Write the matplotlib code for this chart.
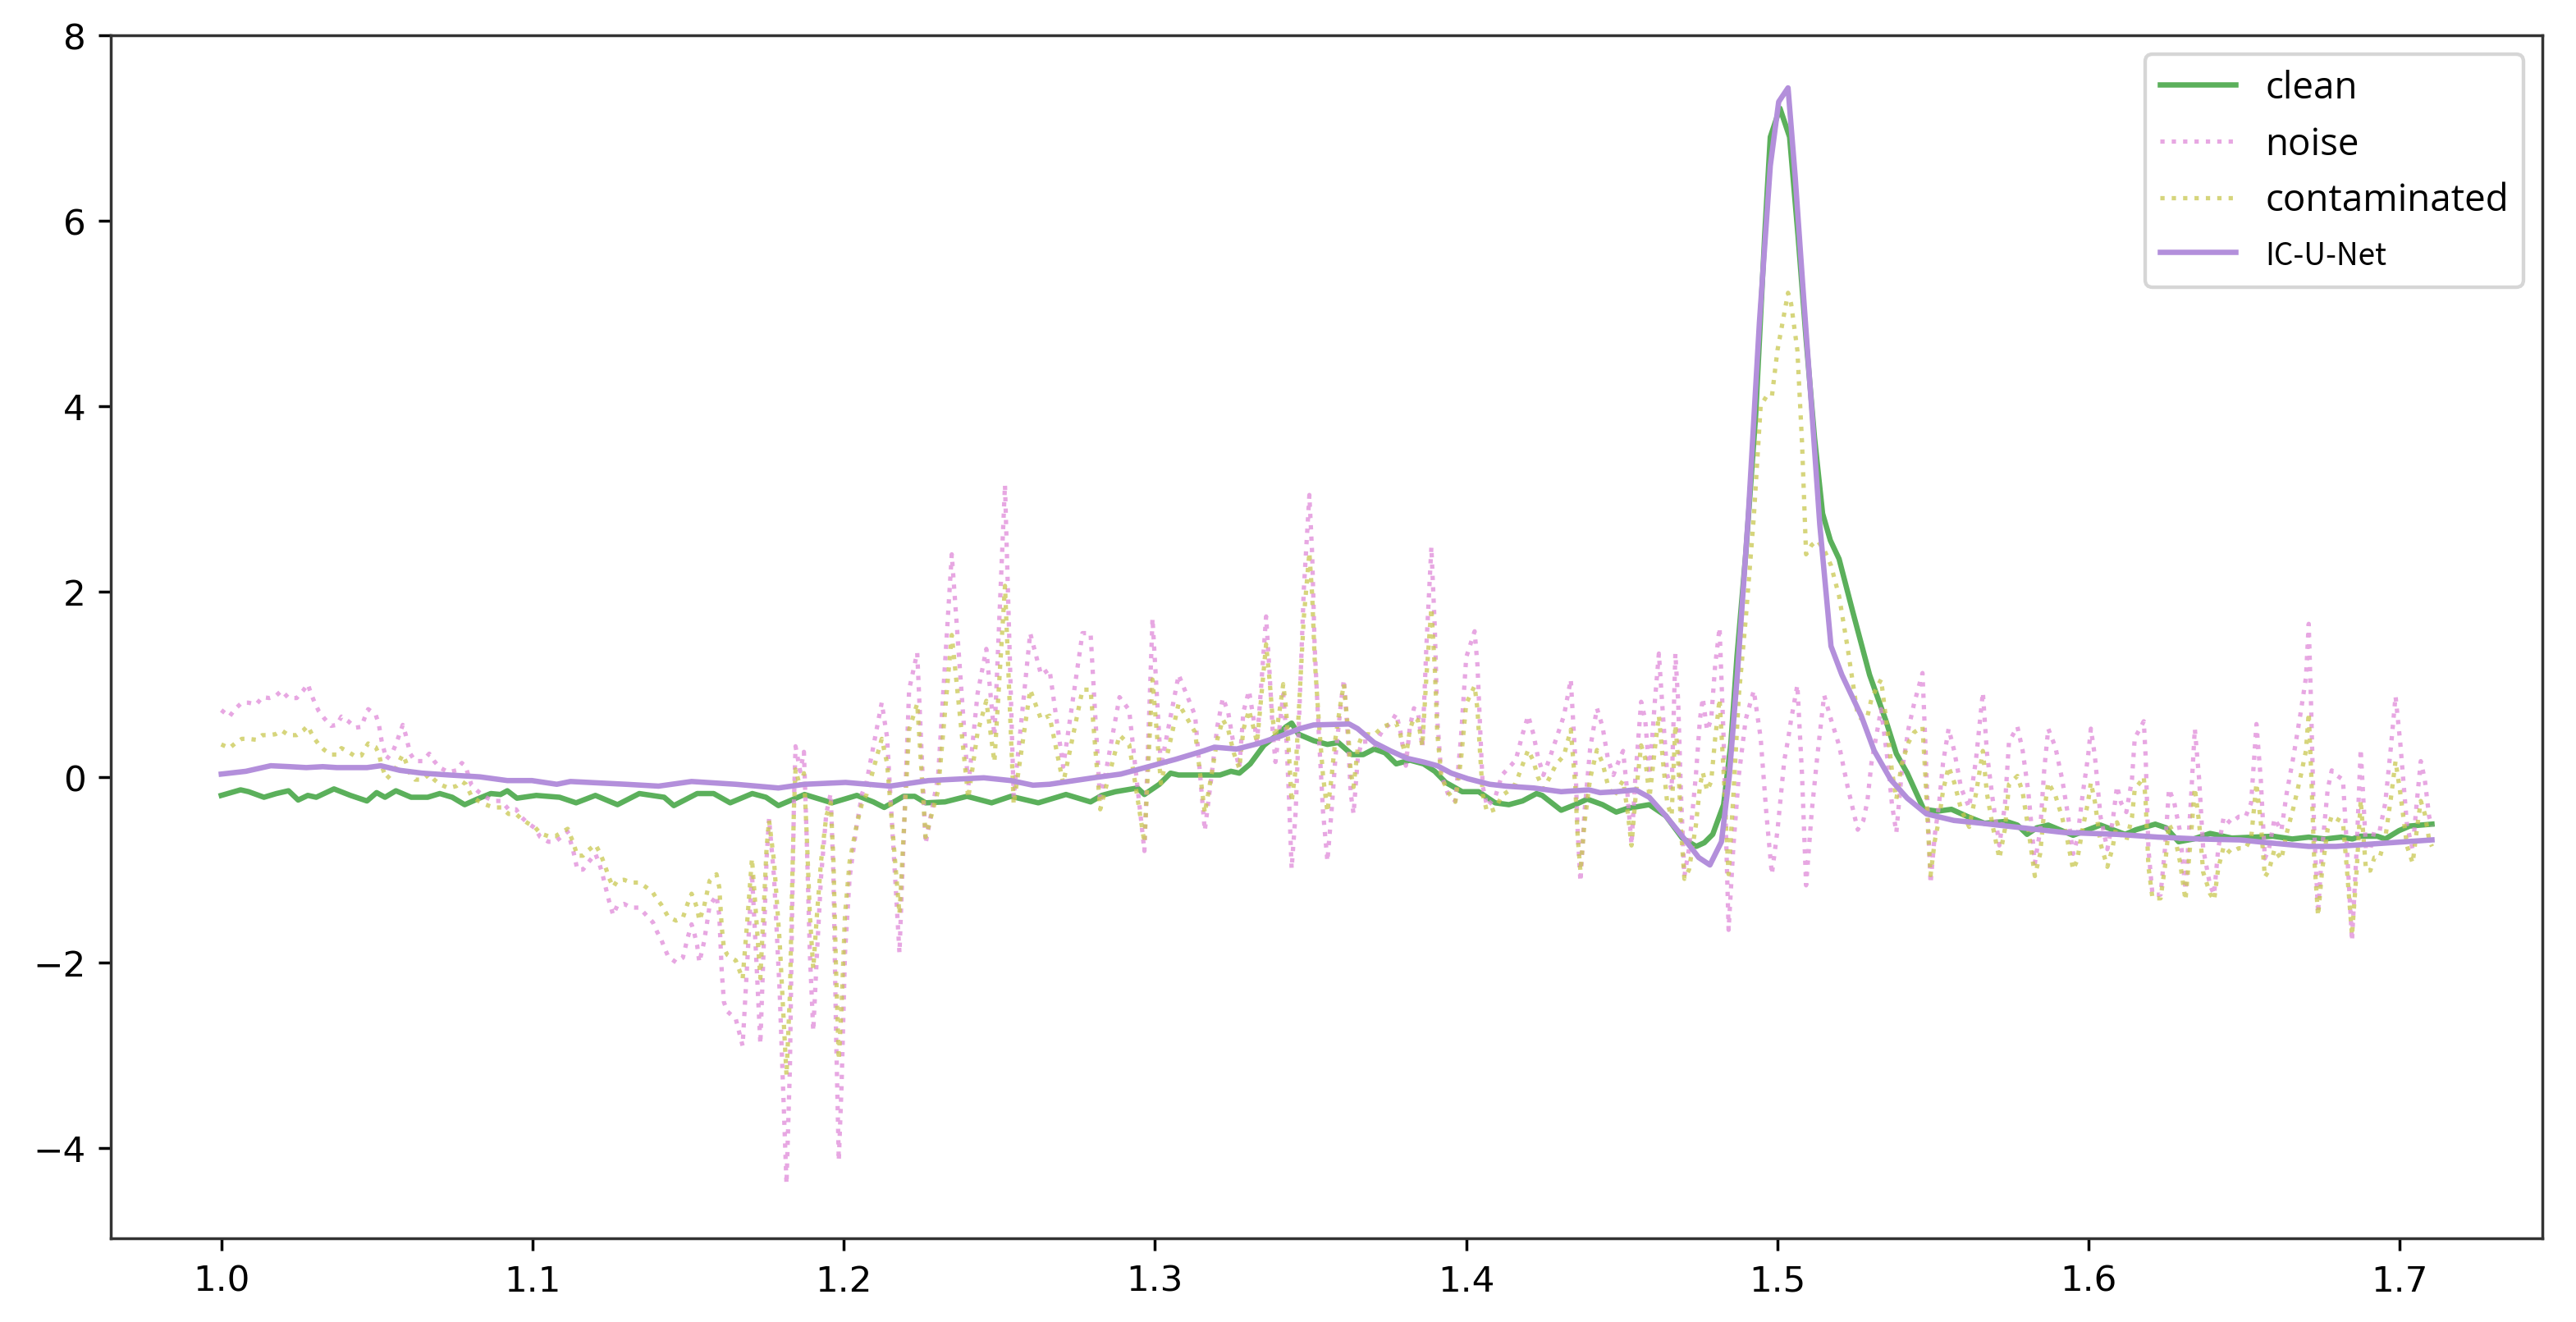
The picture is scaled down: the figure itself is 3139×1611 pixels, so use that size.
import matplotlib
matplotlib.use("Agg")
import matplotlib.pyplot as plt

# noise and contaminated share one time axis (s)
x_nc = [
    1.0000, 1.0026, 1.0044, 1.0066, 1.0087, 1.0112, 1.0132, 1.0154, 1.0174, 1.0194,
    1.0216, 1.0242, 1.0263, 1.0278, 1.0288, 1.0300, 1.0313, 1.0331, 1.0353, 1.0371,
    1.0386, 1.0408, 1.0431, 1.0450, 1.0461, 1.0472, 1.0496, 1.0506, 1.0516, 1.0531,
    1.0552, 1.0563, 1.0583, 1.0592, 1.0607, 1.0623, 1.0647, 1.0668, 1.0684, 1.0702,
    1.0730, 1.0755, 1.0773, 1.0786, 1.0804, 1.0826, 1.0850, 1.0875, 1.0900, 1.0923,
    1.0947, 1.0963, 1.0985, 1.1007, 1.1025, 1.1051, 1.1073, 1.1113, 1.1131, 1.1144,
    1.1162, 1.1180, 1.1202, 1.1215, 1.1224, 1.1237, 1.1246, 1.1259, 1.1272, 1.1294,
    1.1317, 1.1343, 1.1365, 1.1387, 1.1400, 1.1414, 1.1436, 1.1461, 1.1483, 1.1498,
    1.1511, 1.1520, 1.1529, 1.1536, 1.1551, 1.1560, 1.1569, 1.1591, 1.1600, 1.1608,
    1.1615, 1.1626, 1.1653, 1.1675, 1.1690, 1.1705, 1.1718, 1.1732, 1.1742, 1.1752,
    1.1760, 1.1776, 1.1794, 1.1807, 1.1816, 1.1827, 1.1834, 1.1840, 1.1845, 1.1860,
    1.1872, 1.1881, 1.1891, 1.1902, 1.1914, 1.1927, 1.1944, 1.1958, 1.1967, 1.1975,
    1.1984, 1.1993, 1.2004, 1.2019, 1.2042, 1.2059, 1.2073, 1.2122, 1.2139, 1.2179,
    1.2210, 1.2236, 1.2263, 1.2303, 1.2347, 1.2400, 1.2430, 1.2458, 1.2484, 1.2518,
    1.2546, 1.2599, 1.2634, 1.2661, 1.2705, 1.2767, 1.2793, 1.2824, 1.2886, 1.2917,
    1.2966, 1.2992, 1.3019, 1.3076, 1.3129, 1.3160, 1.3182, 1.3200, 1.3218, 1.3235,
    1.3253, 1.3271, 1.3284, 1.3302, 1.3315, 1.3328, 1.3341, 1.3357, 1.3368, 1.3378,
    1.3387, 1.3399, 1.3412, 1.3421, 1.3430, 1.3439, 1.3452, 1.3465, 1.3478, 1.3496,
    1.3505, 1.3513, 1.3527, 1.3540, 1.3554, 1.3567, 1.3580, 1.3598, 1.3607, 1.3620,
    1.3629, 1.3638, 1.3652, 1.3665, 1.3683, 1.3704, 1.3731, 1.3757, 1.3775, 1.3788,
    1.3806, 1.3819, 1.3832, 1.3845, 1.3859, 1.3872, 1.3888, 1.3899, 1.3907, 1.3920,
    1.3943, 1.3965, 1.3983, 1.4000, 1.4027, 1.4036, 1.4045, 1.4053, 1.4067, 1.4093,
    1.4115, 1.4137, 1.4159, 1.4181, 1.4199, 1.4216, 1.4230, 1.4248, 1.4266, 1.4288,
    1.4314, 1.4336, 1.4350, 1.4358, 1.4367, 1.4380, 1.4398, 1.4420, 1.4438, 1.4456,
    1.4473, 1.4491, 1.4504, 1.4518, 1.4531, 1.4544, 1.4562, 1.4575, 1.4589, 1.4606,
    1.4619, 1.4633, 1.4646, 1.4660, 1.4672, 1.4681, 1.4690, 1.4701, 1.4716, 1.4738,
    1.4751, 1.4760, 1.4774, 1.4787, 1.4800, 1.4814, 1.4827, 1.4836, 1.4843, 1.4858,
    1.4876, 1.4898, 1.4924, 1.4946, 1.4964, 1.4982, 1.5000, 1.5022, 1.5034, 1.5044,
    1.5064, 1.5079, 1.5092, 1.5110, 1.5128, 1.5150, 1.5172, 1.5198, 1.5225, 1.5258,
    1.5276, 1.5289, 1.5302, 1.5320, 1.5333, 1.5355, 1.5368, 1.5382, 1.5399, 1.5421,
    1.5439, 1.5466, 1.5475, 1.5484, 1.5492, 1.5505, 1.5519, 1.5532, 1.5550, 1.5568,
    1.5590, 1.5616, 1.5638, 1.5660, 1.5673, 1.5691, 1.5713, 1.5731, 1.5744, 1.5771,
    1.5788, 1.5806, 1.5827, 1.5844, 1.5857, 1.5870, 1.5893, 1.5915, 1.5932, 1.5950,
    1.5963, 1.5981, 1.5998, 1.6007, 1.6020, 1.6038, 1.6060, 1.6077, 1.6091, 1.6104,
    1.6121, 1.6139, 1.6148, 1.6165, 1.6177, 1.6183, 1.6192, 1.6205, 1.6231, 1.6245,
    1.6258, 1.6275, 1.6293, 1.6311, 1.6328, 1.6341, 1.6355, 1.6368, 1.6390, 1.6403,
    1.6416, 1.6434, 1.6456, 1.6482, 1.6504, 1.6522, 1.6539, 1.6553, 1.6566, 1.6579,
    1.6597, 1.6619, 1.6636, 1.6658, 1.6680, 1.6698, 1.6707, 1.6715, 1.6724, 1.6737,
    1.6750, 1.6768, 1.6781, 1.6795, 1.6817, 1.6830, 1.6846, 1.6861, 1.6874, 1.6891,
    1.6905, 1.6918, 1.6935, 1.6953, 1.6971, 1.6986, 1.7001, 1.7023, 1.7041, 1.7054,
    1.7067, 1.7080, 1.7094, 1.7103,
]

noise = [
    0.72, 0.65, 0.73, 0.80, 0.80, 0.78, 0.86, 0.85, 0.87, 0.93,
    0.85, 0.85, 0.93, 1.00, 0.90, 0.80, 0.71, 0.63, 0.55, 0.56,
    0.65, 0.60, 0.53, 0.54, 0.64, 0.73, 0.67, 0.57, 0.37, 0.19,
    0.28, 0.37, 0.56, 0.46, 0.25, 0.17, 0.17, 0.25, 0.17, 0.10,
    0.05, 0.07, 0.15, 0.10, -0.09, -0.16, -0.22, -0.26, -0.26, -0.35,
    -0.35, -0.43, -0.50, -0.55, -0.65, -0.70, -0.70, -0.59, -0.80, -1.00,
    -1.00, -0.92, -0.83, -0.94, -1.04, -1.22, -1.34, -1.49, -1.39, -1.37,
    -1.41, -1.41, -1.49, -1.57, -1.67, -1.76, -1.94, -2.00, -1.95, -1.74,
    -1.59, -1.69, -1.82, -2.00, -1.78, -1.59, -1.39, -1.28, -1.49, -2.10,
    -2.43, -2.53, -2.61, -2.90, -2.00, -1.04, -1.90, -2.88, -1.90, -0.88,
    -0.45, -1.08, -2.31, -3.53, -4.39, -3.13, -1.49, -0.26, 0.33, 0.06,
    0.27, -0.67, -1.90, -2.74, -1.90, -1.08, -0.39, -0.18, -1.08, -2.72,
    -4.14, -3.32, -1.90, -1.08, -0.51, -0.18, -0.06, 0.80, 0.43, -1.90,
    0.94, 1.34, -0.72, 0.00, 2.40, -0.11, 0.90, 1.38, 0.44, 3.15,
    -0.22, 1.55, 1.10, 1.16, 0.11, 1.55, 1.55, -0.28, 0.86, 0.72,
    -0.80, 1.71, 0.11, 1.10, 0.66, -0.58, 0.02, 0.54, 0.85, 0.70,
    0.34, 0.10, 0.70, 0.93, 0.66, 0.38, 0.97, 1.73, 1.13, 0.50,
    0.16, 0.50, 0.89, 0.50, -0.18, -0.99, -0.38, 0.81, 2.01, 3.04,
    2.40, 1.41, 0.42, -0.38, -0.91, -0.38, 0.22, 0.81, 1.05, 0.42,
    -0.18, -0.40, 0.22, 0.38, 0.38, 0.34, 0.50, 0.58, 0.68, 0.50,
    0.12, 0.54, 0.74, 0.70, 0.32, 1.41, 2.48, 1.61, 0.62, 0.02,
    -0.20, -0.26, 0.42, 1.29, 1.57, 1.21, 0.50, -0.10, -0.32, -0.22,
    0.02, 0.10, 0.18, 0.46, 0.66, 0.46, 0.22, 0.02, 0.18, 0.40,
    0.66, 1.05, 0.22, -0.58, -1.13, -0.38, 0.30, 0.74, 0.54, 0.18,
    0.02, 0.18, 0.28, -0.18, -0.73, 0.02, 0.81, 0.62, 0.02, 0.81,
    1.33, 0.62, 0.02, -0.14, 1.33, 0.81, -0.18, -1.07, -0.77, 0.02,
    0.62, 0.85, 0.50, 0.62, 1.21, 1.61, 0.42, -0.77, -1.65, -0.77,
    0.02, 0.62, 0.93, 0.42, -0.38, -1.05, -0.58, 0.18, 0.40, 0.62,
    0.99, 0.02, -1.17, -0.38, 0.22, 0.88, 0.62, 0.34, -0.10, -0.57,
    -0.47, -0.26, 0.15, 0.49, 0.73, 0.15, -0.30, -0.60, 0.04, 0.52,
    0.79, 1.12, 0.38, -0.47, -1.15, -0.64, -0.30, 0.15, 0.52, 0.28,
    -0.12, -0.33, 0.19, 0.91, 0.26, -0.23, -0.74, -0.30, 0.38, 0.54,
    0.28, -0.16, -0.93, -0.58, 0.07, 0.52, 0.32, -0.03, -0.38, -0.83,
    -0.68, -0.18, 0.22, 0.52, 0.22, -0.43, -0.78, -0.48, -0.10, -0.28,
    -0.38, -0.03, 0.42, 0.52, 0.60, 0.22, -0.78, -1.27, -1.27, -0.78,
    -0.13, -0.28, -0.58, -1.22, -0.28, 0.52, -0.03, -0.78, -1.17, -1.27,
    -0.78, -0.43, -0.50, -0.43, -0.43, -0.28, 0.57, -0.03, -0.88, -0.78,
    -0.45, -0.58, -0.18, 0.22, 0.67, 1.07, 1.65, 0.72, -0.53, -1.47,
    -0.78, -0.13, 0.07, 0.02, -0.03, -0.78, -1.77, -0.78, 0.30, -0.78,
    -0.78, -0.58, -0.58, -0.28, 0.32, 0.87, 0.37, -0.53, -0.78, -0.28,
    0.17, -0.03, -0.43, -0.53,
]

contaminated = [
    0.35, 0.31, 0.36, 0.41, 0.41, 0.40, 0.45, 0.45, 0.46, 0.50,
    0.45, 0.45, 0.50, 0.55, 0.48, 0.41, 0.35, 0.29, 0.24, 0.24,
    0.31, 0.27, 0.22, 0.23, 0.30, 0.36, 0.32, 0.25, 0.11, -0.02,
    0.05, 0.11, 0.24, 0.17, 0.03, -0.03, -0.03, 0.03, -0.03, -0.08,
    -0.12, -0.10, -0.05, -0.08, -0.21, -0.26, -0.30, -0.33, -0.33, -0.40,
    -0.40, -0.45, -0.50, -0.54, -0.61, -0.64, -0.64, -0.56, -0.71, -0.85,
    -0.85, -0.79, -0.73, -0.81, -0.88, -1.00, -1.09, -1.19, -1.12, -1.11,
    -1.14, -1.14, -1.19, -1.25, -1.32, -1.38, -1.51, -1.55, -1.52, -1.37,
    -1.26, -1.33, -1.42, -1.55, -1.40, -1.26, -1.12, -1.05, -1.19, -1.62,
    -1.85, -1.92, -1.98, -2.18, -1.55, -0.88, -1.48, -2.17, -1.48, -0.77,
    -0.47, -0.91, -1.77, -2.62, -3.22, -2.34, -1.19, -0.33, 0.08, -0.11,
    0.04, -0.62, -1.48, -2.07, -1.48, -0.91, -0.42, -0.28, -0.91, -2.05,
    -3.05, -2.47, -1.48, -0.91, -0.51, -0.28, -0.19, 0.41, 0.15, -1.48,
    0.51, 0.79, -0.65, -0.15, 1.53, -0.23, 0.48, 0.82, 0.16, 2.06,
    -0.30, 0.94, 0.62, 0.66, -0.07, 0.94, 0.94, -0.35, 0.45, 0.35,
    -0.71, 1.05, -0.07, 0.79, 0.48, -0.39, 0.03, 0.40, 0.62, 0.51,
    0.26, 0.09, 0.51, 0.72, 0.55, 0.37, 0.85, 1.43, 1.05, 0.63,
    0.42, 0.68, 1.00, 0.74, 0.28, -0.27, 0.08, 0.90, 1.71, 2.42,
    1.96, 1.27, 0.57, 0.01, -0.38, -0.01, 0.42, 0.83, 1.00, 0.52,
    0.05, -0.11, 0.33, 0.44, 0.46, 0.45, 0.54, 0.57, 0.58, 0.46,
    0.21, 0.51, 0.64, 0.61, 0.33, 1.08, 1.82, 1.17, 0.47, 0.00,
    -0.17, -0.27, 0.18, 0.79, 0.98, 0.73, 0.23, -0.19, -0.38, -0.35,
    -0.20, -0.15, -0.07, 0.13, 0.29, 0.17, 0.00, -0.13, -0.02, 0.13,
    0.23, 0.51, -0.08, -0.64, -1.02, -0.50, -0.02, 0.29, 0.15, -0.10,
    -0.22, -0.11, -0.04, -0.36, -0.74, -0.22, 0.34, 0.20, -0.22, 0.30,
    0.66, 0.14, -0.29, -0.42, 0.56, 0.18, -0.56, -1.10, -1.00, -0.52,
    -0.10, 0.05, -0.15, -0.05, 0.42, 0.84, 0.05, -0.61, -1.05, -0.22,
    0.88, 1.70, 2.80, 4.00, 4.10, 4.10, 4.60, 5.00, 5.22, 5.10,
    4.60, 3.60, 2.40, 2.50, 2.55, 2.45, 2.28, 1.95, 1.40, 0.66,
    0.61, 0.65, 0.84, 0.97, 1.05, 0.46, 0.06, -0.24, 0.14, 0.37,
    0.48, 0.54, 0.02, -0.58, -1.06, -0.70, -0.46, -0.15, 0.11, -0.06,
    -0.35, -0.54, -0.18, 0.28, -0.18, -0.52, -0.88, -0.56, -0.08, 0.01,
    -0.17, -0.56, -1.07, -0.83, -0.37, -0.06, -0.20, -0.44, -0.69, -1.00,
    -0.90, -0.55, -0.27, -0.06, -0.27, -0.72, -0.97, -0.76, -0.49, -0.62,
    -0.69, -0.44, -0.13, -0.06, 0.00, -0.27, -0.97, -1.31, -1.31, -0.97,
    -0.51, -0.62, -0.91, -1.33, -0.66, -0.12, -0.50, -1.03, -1.26, -1.33,
    -0.99, -0.75, -0.82, -0.77, -0.77, -0.66, -0.07, -0.49, -1.08, -1.01,
    -0.78, -0.89, -0.61, -0.33, -0.01, 0.28, 0.69, 0.04, -0.84, -1.50,
    -1.01, -0.56, -0.42, -0.45, -0.49, -1.01, -1.71, -1.01, -0.25, -1.01,
    -1.01, -0.87, -0.87, -0.66, -0.23, 0.17, -0.17, -0.75, -0.93, -0.58,
    -0.26, -0.40, -0.68, -0.75,
]

# clean reference signal
x_clean = [
    1.0000, 1.0062, 1.0088, 1.0137, 1.0177, 1.0216, 1.0247, 1.0278, 1.0305, 1.0362,
    1.0415, 1.0468, 1.0499, 1.0526, 1.0561, 1.0610, 1.0663, 1.0702, 1.0742, 1.0782,
    1.0822, 1.0866, 1.0897, 1.0919, 1.0950, 1.1012, 1.1087, 1.1140, 1.1202, 1.1273,
    1.1343, 1.1423, 1.1454, 1.1529, 1.1582, 1.1635, 1.1706, 1.1750, 1.1790, 1.1874,
    1.1962, 1.2042, 1.2095, 1.2130, 1.2192, 1.2228, 1.2263, 1.2325, 1.2396, 1.2475,
    1.2537, 1.2625, 1.2714, 1.2793, 1.2829, 1.2873, 1.2944, 1.2966, 1.3014, 1.3050,
    1.3076, 1.3156, 1.3209, 1.3244, 1.3271, 1.3306, 1.3350, 1.3395, 1.3421, 1.3439,
    1.3461, 1.3510, 1.3554, 1.3589, 1.3633, 1.3669, 1.3704, 1.3739, 1.3775, 1.3819,
    1.3863, 1.3899, 1.3934, 1.3987, 1.4040, 1.4093, 1.4137, 1.4181, 1.4226, 1.4244,
    1.4305, 1.4350, 1.4389, 1.4438, 1.4482, 1.4518, 1.4588, 1.4641, 1.4694, 1.4739,
    1.4765, 1.4792, 1.4827, 1.4850, 1.4870, 1.4898, 1.4930, 1.4959, 1.4977, 1.5008,
    1.5039, 1.5066, 1.5092, 1.5119, 1.5145, 1.5170, 1.5198, 1.5242, 1.5296, 1.5349,
    1.5382, 1.5417, 1.5470, 1.5514, 1.5559, 1.5612, 1.5665, 1.5735, 1.5771, 1.5802,
    1.5833, 1.5870, 1.5950, 1.6038, 1.6117, 1.6152, 1.6214, 1.6249, 1.6289, 1.6337,
    1.6390, 1.6460, 1.6531, 1.6592, 1.6654, 1.6707, 1.6759, 1.6812, 1.6847, 1.6874,
    1.6927, 1.6953, 1.6997, 1.7032, 1.7103,
]
clean = [
    -0.20, -0.14, -0.16, -0.22, -0.18, -0.15, -0.25, -0.20, -0.22, -0.13,
    -0.20, -0.26, -0.17, -0.22, -0.15, -0.22, -0.22, -0.18, -0.22, -0.30,
    -0.24, -0.18, -0.19, -0.15, -0.23, -0.20, -0.22, -0.28, -0.20, -0.30,
    -0.18, -0.22, -0.31, -0.18, -0.18, -0.28, -0.18, -0.22, -0.31, -0.19,
    -0.28, -0.20, -0.27, -0.33, -0.21, -0.21, -0.28, -0.27, -0.21, -0.28,
    -0.21, -0.28, -0.19, -0.27, -0.20, -0.16, -0.12, -0.19, -0.08, 0.04,
    0.02, 0.02, 0.02, 0.06, 0.04, 0.14, 0.34, 0.46, 0.54, 0.58,
    0.46, 0.39, 0.35, 0.37, 0.24, 0.24, 0.30, 0.26, 0.14, 0.18,
    0.14, 0.06, -0.06, -0.16, -0.16, -0.28, -0.30, -0.26, -0.18, -0.20,
    -0.36, -0.30, -0.24, -0.30, -0.38, -0.34, -0.30, -0.42, -0.66, -0.75,
    -0.71, -0.62, -0.30, 0.35, 1.30, 2.40, 3.90, 5.84, 6.90, 7.21,
    6.90, 5.84, 4.72, 3.66, 2.84, 2.55, 2.35, 1.78, 1.10, 0.60,
    0.25, 0.04, -0.35, -0.37, -0.35, -0.43, -0.50, -0.48, -0.52, -0.62,
    -0.55, -0.52, -0.63, -0.52, -0.62, -0.57, -0.51, -0.55, -0.70, -0.67,
    -0.61, -0.66, -0.65, -0.64, -0.67, -0.65, -0.67, -0.65, -0.67, -0.64,
    -0.64, -0.67, -0.58, -0.53, -0.51,
]

# IC-U-Net reconstruction
x_icunet = [
    1.0000, 1.0079, 1.0159, 1.0220, 1.0273, 1.0326, 1.0371, 1.0468, 1.0512, 1.0574,
    1.0645, 1.0733, 1.0831, 1.0919, 1.0998, 1.1078, 1.1122, 1.1300, 1.1405, 1.1511,
    1.1653, 1.1790, 1.1874, 1.2006, 1.2148, 1.2272, 1.2450, 1.2537, 1.2608, 1.2661,
    1.2802, 1.2890, 1.2979, 1.3067, 1.3156, 1.3191, 1.3262, 1.3333, 1.3404, 1.3465,
    1.3510, 1.3624, 1.3651, 1.3704, 1.3757, 1.3810, 1.3863, 1.3907, 1.3952, 1.4005,
    1.4075, 1.4128, 1.4217, 1.4305, 1.4394, 1.4430, 1.4482, 1.4544, 1.4588, 1.4641,
    1.4694, 1.4747, 1.4783, 1.4820, 1.4845, 1.4871, 1.4906, 1.4942, 1.4977, 1.5004,
    1.5034, 1.5057, 1.5083, 1.5110, 1.5136, 1.5172, 1.5207, 1.5269, 1.5311, 1.5364,
    1.5417, 1.5479, 1.5567, 1.5656, 1.5788, 1.5921, 1.6091, 1.6223, 1.6355, 1.6487,
    1.6575, 1.6707, 1.6795, 1.6927, 1.7103,
]
icunet = [
    0.03, 0.06, 0.12, 0.11, 0.10, 0.11, 0.10, 0.10, 0.12, 0.07,
    0.04, 0.02, 0.00, -0.04, -0.04, -0.08, -0.05, -0.08, -0.10, -0.05,
    -0.08, -0.12, -0.08, -0.06, -0.10, -0.04, -0.01, -0.04, -0.09, -0.08,
    -0.01, 0.03, 0.11, 0.19, 0.28, 0.32, 0.30, 0.36, 0.44, 0.52,
    0.56, 0.57, 0.52, 0.37, 0.28, 0.20, 0.16, 0.12, 0.04, -0.02,
    -0.08, -0.10, -0.12, -0.16, -0.14, -0.17, -0.16, -0.14, -0.22, -0.42,
    -0.64, -0.87, -0.95, -0.70, 0.00, 1.10, 2.80, 4.90, 6.59, 7.28,
    7.43, 6.47, 5.22, 3.97, 2.72, 1.41, 1.10, 0.66, 0.28, -0.03,
    -0.23, -0.40, -0.47, -0.50, -0.55, -0.60, -0.62, -0.65, -0.67, -0.68,
    -0.71, -0.75, -0.75, -0.72, -0.68,
]

fig, ax = plt.subplots(figsize=(10, 5.135), dpi=313.9)
fig.subplots_adjust(left=0.043, right=0.987, top=0.973, bottom=0.063)

ax.plot(x_clean, clean, color='#5bb05b', lw=1.5, label='clean')
ax.plot(x_nc, noise, color='#e08ad9', lw=1.2, ls=':', alpha=0.75, label='noise')
ax.plot(x_nc, contaminated, color='#c9c850', lw=1.2, ls=':', alpha=0.75, label='contaminated')
ax.plot(x_icunet, icunet, color='#b38fdb', lw=1.5, label='IC-U-Net')

ax.set_ylim(-4.98, 8.0)
for side in ax.spines.values():
    side.set_edgecolor('#333333')

leg = ax.legend(loc='upper right', prop={'family': 'Open Sans', 'size': 10.5})
leg.get_texts()[3].set_fontsize(8.5)
leg.get_texts()[3].set_family('Noto Sans CJK SC')

fig.savefig('out.png', dpi=313.9)
